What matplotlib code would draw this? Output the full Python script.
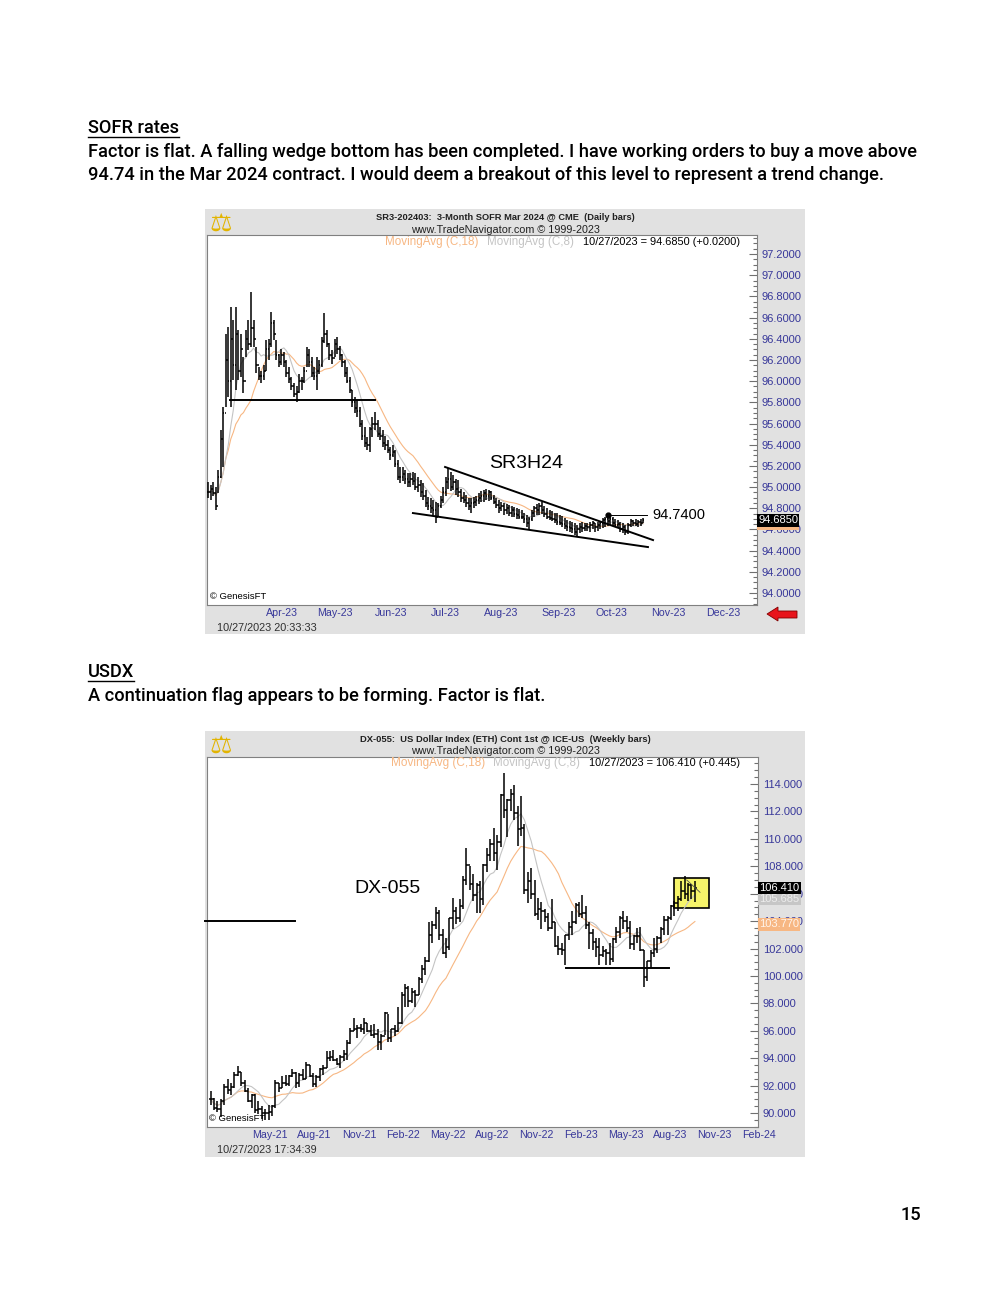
import numpy as np
import pandas as pd
import matplotlib
matplotlib.use('Agg')
import matplotlib.pyplot as plt
from matplotlib.transforms import Affine2D, blended_transform_factory
from matplotlib.patches import Rectangle, Polygon
from matplotlib.lines import Line2D
from matplotlib.ticker import MultipleLocator, FormatStrFormatter

# SR3H24 daily bars, 1 Mar 2023 .. 27 Oct 2023 (one row of values per month)
sofr_high = [
    95.05, 95.02, 95.05, 95.00, 95.16, 95.54, 95.76, 96.45, 96.51, 96.70, 96.58, 96.70, 96.48, 96.45, 96.23, 96.48, 96.58, 96.84, 96.58, 96.32, 96.13, 96.10, 96.15,
    96.39, 96.40, 96.65, 96.58, 96.39, 96.26, 96.30, 96.28, 96.20, 96.13, 96.04, 95.98, 95.95, 96.07, 96.04, 96.13, 96.32, 96.30, 96.23, 96.13,
    96.23, 96.20, 96.42, 96.64, 96.48, 96.36, 96.29, 96.40, 96.42, 96.33, 96.26, 96.20, 96.13, 96.04, 95.92, 95.85, 95.82, 95.76, 95.63, 95.57, 95.47, 95.57, 95.66,
    95.71, 95.63, 95.57, 95.54, 95.48, 95.44, 95.38, 95.40, 95.35, 95.26, 95.19, 95.19, 95.16, 95.13, 95.13, 95.14, 95.13, 95.10, 95.07, 95.04, 94.97, 94.91,
    94.90, 94.88, 94.86, 94.85, 94.92, 95.00, 95.10, 95.18, 95.14, 95.11, 95.08, 95.07, 94.98, 94.95, 94.93, 94.90, 94.90, 94.91, 94.92, 94.94, 94.96,
    94.97, 94.98, 94.97, 94.96, 94.93, 94.90, 94.88, 94.86, 94.85, 94.84, 94.83, 94.82, 94.81, 94.80, 94.79, 94.78, 94.76, 94.74, 94.72, 94.78, 94.82, 94.84, 94.85,
    94.86, 94.82, 94.80, 94.78, 94.77, 94.76, 94.76, 94.74, 94.73, 94.71, 94.69, 94.68, 94.67, 94.66, 94.64, 94.66, 94.67, 94.66, 94.66, 94.67, 94.68,
    94.66, 94.67, 94.68, 94.71, 94.72, 94.74, 94.73, 94.72, 94.70, 94.69, 94.67, 94.66, 94.64, 94.66, 94.70, 94.69, 94.70, 94.69, 94.70, 94.71,
]
sofr_low = [
    94.90, 94.88, 94.92, 94.78, 94.94, 95.09, 95.19, 95.76, 95.85, 95.76, 96.01, 95.92, 96.01, 96.04, 95.89, 96.23, 96.29, 96.32, 96.32, 96.08, 96.01, 95.98, 96.01,
    96.10, 96.20, 96.32, 96.39, 96.20, 96.13, 96.15, 96.13, 96.04, 95.98, 95.92, 95.85, 95.80, 95.89, 95.92, 95.98, 96.13, 96.13, 96.04, 96.01,
    95.92, 96.07, 96.13, 96.36, 96.32, 96.20, 96.16, 96.23, 96.26, 96.20, 96.13, 96.04, 95.98, 95.89, 95.76, 95.70, 95.66, 95.57, 95.44, 95.38, 95.35, 95.33, 95.47,
    95.54, 95.47, 95.44, 95.38, 95.35, 95.32, 95.26, 95.28, 95.19, 95.07, 95.04, 95.06, 95.03, 95.00, 95.00, 95.02, 94.97, 94.95, 94.91, 94.88, 94.81, 94.78,
    94.76, 94.74, 94.66, 94.72, 94.80, 94.85, 94.92, 94.98, 94.96, 94.97, 94.93, 94.91, 94.86, 94.85, 94.81, 94.78, 94.76, 94.80, 94.82, 94.84, 94.86,
    94.86, 94.88, 94.87, 94.88, 94.84, 94.80, 94.76, 94.77, 94.74, 94.75, 94.73, 94.72, 94.72, 94.70, 94.70, 94.70, 94.66, 94.62, 94.60, 94.68, 94.72, 94.74, 94.74,
    94.75, 94.72, 94.70, 94.69, 94.68, 94.66, 94.64, 94.64, 94.62, 94.60, 94.59, 94.58, 94.57, 94.55, 94.53, 94.57, 94.58, 94.59, 94.59, 94.58, 94.60,
    94.58, 94.59, 94.60, 94.61, 94.62, 94.63, 94.64, 94.63, 94.62, 94.61, 94.58, 94.57, 94.55, 94.56, 94.62, 94.63, 94.63, 94.62, 94.63, 94.66,
]
sofr_close = [
    94.95, 94.98, 94.94, 94.82, 95.10, 95.45, 95.70, 96.20, 96.00, 96.40, 96.15, 96.45, 96.10, 96.30, 96.00, 96.40, 96.35, 96.50, 96.40, 96.15, 96.05, 96.05, 96.10,
    96.30, 96.35, 96.55, 96.45, 96.25, 96.18, 96.25, 96.18, 96.08, 96.02, 95.95, 95.88, 95.90, 96.00, 96.00, 96.10, 96.25, 96.18, 96.08, 96.05,
    96.10, 96.15, 96.38, 96.45, 96.35, 96.25, 96.22, 96.35, 96.30, 96.25, 96.18, 96.08, 96.00, 95.92, 95.80, 95.75, 95.72, 95.60, 95.48, 95.42, 95.40, 95.55, 95.60,
    95.60, 95.50, 95.48, 95.42, 95.40, 95.35, 95.30, 95.33, 95.22, 95.10, 95.10, 95.12, 95.08, 95.05, 95.08, 95.06, 95.00, 95.02, 94.95, 94.92, 94.85, 94.82,
    94.80, 94.78, 94.72, 94.82, 94.88, 94.95, 95.05, 95.08, 95.00, 95.05, 94.98, 94.95, 94.90, 94.88, 94.85, 94.82, 94.85, 94.86, 94.88, 94.90, 94.92,
    94.94, 94.92, 94.95, 94.90, 94.86, 94.83, 94.80, 94.82, 94.78, 94.80, 94.76, 94.78, 94.75, 94.74, 94.72, 94.72, 94.70, 94.66, 94.70, 94.76, 94.80, 94.78, 94.82,
    94.78, 94.75, 94.72, 94.71, 94.70, 94.69, 94.67, 94.66, 94.65, 94.63, 94.62, 94.61, 94.60, 94.58, 94.60, 94.62, 94.61, 94.63, 94.62, 94.64, 94.66,
    94.62, 94.64, 94.66, 94.69, 94.70, 94.68, 94.70, 94.66, 94.64, 94.65, 94.60, 94.62, 94.58, 94.64, 94.68, 94.66, 94.65, 94.67, 94.665, 94.685,
]
sofr_start = '2023-03-01'
sofr_month_labels = ['Apr-23', 'May-23', 'Jun-23', 'Jul-23', 'Aug-23', 'Sep-23', 'Oct-23', 'Nov-23', 'Dec-23']

# DX-055 weekly bars, 5 Feb 2021 .. 27 Oct 2023 (one row per year)
dx_high = [
    91.6, 91.1, 90.9, 91.0, 92.1, 92.5, 92.2, 93.0, 93.4, 93.0, 92.4, 91.8, 91.4, 91.4, 90.9, 90.5, 90.3, 90.6, 90.6, 92.4, 92.2, 92.7, 92.8, 92.8, 93.2, 93.0,
    92.9, 93.2, 93.7, 93.5, 92.9, 92.8, 93.3, 93.5, 94.5, 94.5, 94.6, 94.0, 94.2, 94.6, 95.3, 96.2, 96.9, 96.4, 96.5, 96.9, 96.6, 96.4,
    96.5, 96.1, 95.8, 97.4, 97.2, 96.1, 96.4, 97.7, 98.8, 99.4, 99.3, 99.1, 99.0, 99.9, 100.8, 101.4, 103.9, 104.0, 105.0, 104.8, 103.4, 102.8, 104.2, 105.7, 105.0,
    105.6, 107.3, 109.3, 108.0, 107.4, 106.8, 106.9, 108.2, 109.3, 110.0, 110.8, 110.3, 113.3, 114.8, 112.9, 113.6, 113.9, 112.4, 113.1, 111.1, 107.6, 107.9,
    107.0, 105.7, 105.4, 104.9, 104.6,
    105.6, 103.9, 102.9, 102.4, 103.0, 103.9, 104.7, 105.3, 105.4, 105.9, 105.1, 103.9, 103.4, 102.8, 102.8, 102.2, 102.0, 102.4, 102.8, 103.6, 104.4,
    104.7, 104.4, 104.0, 103.0, 103.5, 103.6, 101.9, 101.1, 101.9, 102.8, 102.9, 103.6, 104.4, 104.4, 105.2, 105.5, 105.8, 106.9, 107.3, 106.8, 106.7, 106.9,
]
dx_low = [
    90.6, 90.2, 90.1, 89.7, 90.6, 91.4, 91.3, 91.8, 92.7, 92.0, 91.5, 90.8, 90.4, 90.0, 89.9, 89.6, 89.5, 89.5, 89.8, 90.4, 91.5, 91.8, 92.0, 92.0, 92.6, 91.8,
    91.9, 92.4, 92.5, 92.6, 91.9, 91.9, 92.3, 92.8, 93.3, 93.8, 93.8, 93.5, 93.3, 93.8, 93.9, 95.0, 96.0, 95.5, 95.9, 95.8, 95.9, 95.6,
    95.5, 94.6, 94.6, 95.7, 95.2, 95.2, 95.6, 95.9, 96.5, 97.7, 97.7, 98.0, 97.7, 98.6, 99.5, 100.1, 101.0, 102.4, 103.4, 102.6, 101.6, 101.3, 101.9, 103.4, 103.8,
    103.9, 104.9, 106.6, 106.3, 105.5, 104.6, 104.6, 105.2, 107.6, 108.4, 108.4, 107.7, 109.4, 111.5, 110.1, 112.0, 111.4, 109.5, 110.2, 106.0, 105.3, 105.6,
    104.4, 104.1, 103.4, 103.9, 103.3,
    103.4, 102.1, 101.5, 101.5, 100.8, 102.6, 103.0, 103.8, 104.3, 104.2, 103.4, 102.0, 101.9, 101.4, 100.8, 101.4, 100.8, 100.8, 101.0, 102.4, 102.8,
    103.4, 103.2, 102.0, 101.9, 102.4, 101.8, 99.2, 99.6, 100.6, 101.4, 101.7, 102.4, 103.0, 103.0, 104.1, 104.4, 104.7, 105.5, 105.6, 105.5, 105.6, 105.4,
]
dx_close = [
    91.0, 90.4, 90.3, 90.9, 91.9, 91.7, 91.9, 92.8, 93.0, 92.2, 91.6, 90.9, 91.3, 90.2, 90.3, 90.0, 90.0, 90.1, 90.5, 92.2, 91.8, 92.2, 92.1, 92.7, 92.9, 92.2,
    92.8, 92.5, 93.5, 92.7, 92.1, 92.6, 93.2, 93.3, 94.0, 94.1, 93.9, 93.6, 94.1, 94.3, 95.1, 96.0, 96.1, 96.2, 96.1, 96.6, 96.0, 95.7,
    95.8, 95.2, 95.6, 97.3, 95.5, 96.1, 96.0, 96.6, 98.6, 99.1, 98.2, 98.8, 98.6, 99.8, 100.5, 101.1, 103.0, 103.7, 104.6, 103.0, 101.7, 102.1, 104.2, 104.7, 104.2,
    105.1, 107.0, 108.1, 106.7, 105.9, 106.6, 105.6, 108.1, 108.8, 109.6, 109.0, 109.8, 113.2, 112.1, 112.8, 113.3, 111.9, 110.7, 110.8, 106.3, 106.9, 106.0,
    104.5, 104.9, 104.7, 104.3, 103.5,
    103.9, 102.2, 102.0, 101.9, 103.0, 103.6, 103.9, 105.2, 104.5, 104.6, 103.7, 103.1, 102.5, 102.1, 101.5, 101.8, 101.7, 101.2, 102.7, 103.2, 104.2,
    104.0, 103.5, 102.3, 102.9, 102.9, 101.9, 99.9, 101.1, 101.7, 102.0, 102.8, 103.4, 104.1, 104.2, 105.1, 105.3, 105.6, 106.2, 106.0, 106.6, 106.2, 106.41,
]
dx_start = '2021-02-05'
dx_month_labels = ['May-21', 'Aug-21', 'Nov-21', 'Feb-22', 'May-22', 'Aug-22', 'Nov-22',
                   'Feb-23', 'May-23', 'Aug-23', 'Nov-23', 'Feb-24']

BLUE = '#38389a'
ORANGE = '#f7b783'
GREY_MA = '#c4c4c4'
PANEL = '#e1e1e1'
plt.rcParams['font.family'] = 'Liberation Sans'

W, H = 1008, 1300
fig = plt.figure(figsize=(W / 100, H / 100), dpi=100)
fig.patch.set_facecolor('white')
# page pixel coordinates, origin top-left
px = Affine2D().scale(1, -1).translate(0, H).scale(1 / W, 1 / H) + fig.transFigure
renderer = fig.canvas.get_renderer()


def put(x, y, s, width=None, size=8, **kw):
    kw.setdefault('va', 'center')
    t = fig.text(x, y, s, transform=px, fontsize=size, **kw)
    if width:
        w = t.get_window_extent(renderer).width
        t.set_fontsize(size * width / w)
    return t


def make_ax(l, t, r, b):
    return fig.add_axes([l / W, 1 - b / H, (r - l) / W, (b - t) / H])


def style(ax, ymaj, ymin, fmt, xpos, xlabels):
    for s in ax.spines.values():
        s.set_color('#808080')
        s.set_linewidth(0.8)
    ax.yaxis.tick_right()
    ax.yaxis.set_major_locator(MultipleLocator(ymaj))
    ax.yaxis.set_minor_locator(MultipleLocator(ymin))
    ax.yaxis.set_major_formatter(FormatStrFormatter(fmt))
    ax.tick_params(axis='y', which='major', direction='in', length=6, width=0.8,
                   color='#707070', labelsize=8, labelcolor=BLUE, pad=3.5)
    ax.tick_params(axis='y', which='minor', direction='in', length=3, width=0.8, color='#707070')
    ax.set_xticks(xpos)
    ax.set_xticklabels(xlabels, ha='left')
    ax.tick_params(axis='x', length=0, labelsize=7.7, labelcolor=BLUE, pad=2.5)


def bars(ax, h, l, c, tick):
    h, l, c = np.asarray(h), np.asarray(l), np.asarray(c)
    x = np.arange(len(c))
    o = np.r_[c[0], c[:-1]]
    ax.vlines(x, l, h, color='black', lw=1.1, zorder=3)
    ax.hlines(o, x - tick, x, color='black', lw=1.1, zorder=3)
    ax.hlines(c, x, x + tick, color='black', lw=1.1, zorder=3)
    cs = pd.Series(c)
    ax.plot(x, cs.rolling(18, min_periods=1).mean(), color=ORANGE, lw=0.8, zorder=2)
    ax.plot(x, cs.rolling(8, min_periods=1).mean(), color=GREY_MA, lw=0.8, zorder=2)


def side_label(ax, y, s, fc, tc, z):
    tr = blended_transform_factory(ax.transAxes, ax.transData)
    ax.text(1.002, y, s, transform=tr, ha='left', va='center', fontsize=8, color=tc,
            clip_on=False, zorder=z,
            bbox=dict(boxstyle='square,pad=0.12', fc=fc, ec='none'))


# ---------------- page text ----------------
body = dict(family='Roboto', weight='medium', color='black')
t1 = put(88, 152, 'Factor is flat. A falling wedge bottom has been completed. I have working orders to buy a move above',
         width=827, size=12, **body)
bs = t1.get_fontsize()
h1 = put(88, 128, 'SOFR rates', size=bs, **body)
put(88, 175, '94.74 in the Mar 2024 contract. I would deem a breakout of this level to represent a trend change.',
    size=bs, **body)
h2 = put(88, 672, 'USDX', size=bs, **body)
put(88, 696, 'A continuation flag appears to be forming. Factor is flat.', size=bs, **body)
put(921, 1215, '15', size=bs, ha='right', **body)
for h, y in ((h1, 137), (h2, 681)):
    w = h.get_window_extent(renderer).width
    fig.add_artist(Line2D([88, 88 + w], [y, y], transform=px, color='black', lw=1.0))

# ---------------- chart 1: SR3H24 daily ----------------
fig.add_artist(Rectangle((205, 209), 600, 425, transform=px, fc=PANEL, ec='none', zorder=-1))
ax1 = make_ax(207, 235, 757, 605)
days = pd.bdate_range(sofr_start, '2023-12-29')
pos1 = [int(np.searchsorted(days, pd.to_datetime(m, format='%b-%y'))) for m in sofr_month_labels]
bars(ax1, sofr_high, sofr_low, sofr_close, 0.45)
ax1.set_xlim(-0.4, 217)
ax1.set_ylim(93.887, 97.38)
style(ax1, 0.2, 0.05, '%.4f', pos1, sofr_month_labels)

# drawn studies
ax1.plot([8.7, 66], [95.82, 95.82], color='black', lw=1.4, zorder=4)
ax1.plot([93.7, 175.9], [95.19, 94.50], color='black', lw=1.4, zorder=4)
ax1.plot([81, 173.9], [94.755, 94.434], color='black', lw=1.4, zorder=4)
ax1.plot([158, 173.5], [94.74, 94.74], color='black', lw=0.7, zorder=4)
ax1.plot([158], [94.74], 'o', color='black', ms=3.5, zorder=5)
ax1.text(175.5, 94.74, '94.7400', fontsize=10.5, va='center', ha='left')
ax1.text(125.7, 95.22, 'SR3H24', fontsize=14, va='center', ha='center')
ax1.text(0.005, 0.012, '© GenesisFT', transform=ax1.transAxes, fontsize=6.8, va='bottom')
side_label(ax1, 94.652, '94.6520', ORANGE, 'white', 5)
side_label(ax1, 94.685, '94.6850', 'black', 'white', 6)

put(221, 224, '⚖', size=18, ha='center', family='DejaVu Sans', weight='bold', color='#e2b400')
put(505, 217, 'SR3-202403:  3-Month SOFR Mar 2024 @ CME  (Daily bars)', width=258, size=7,
    ha='center', weight='bold', color='#202020')
put(505, 230, 'www.TradeNavigator.com © 1999-2023', width=189, size=8, ha='center', color='#202020')
put(385, 242, 'MovingAvg (C,18)', width=93, size=8, color=ORANGE)
put(487, 242, 'MovingAvg (C,8)', width=87, size=8, color=GREY_MA)
put(583, 242, '10/27/2023 = 94.6850 (+0.0200)', width=158, size=8, color='black')
put(217, 628, '10/27/2023 20:33:33', width=100, size=8, color='#303030')
fig.add_artist(Polygon([(767, 614), (778, 607), (778, 611), (797, 611), (797, 618), (778, 618), (778, 621)],
                       closed=True, transform=px, fc='#e8141b', ec='#800000', lw=0.6, zorder=5))

# ---------------- chart 2: DX-055 weekly ----------------
fig.add_artist(Rectangle((205, 731), 600, 426, transform=px, fc=PANEL, ec='none', zorder=-1))
ax2 = make_ax(207, 757, 758, 1127)
t0 = pd.Timestamp(dx_start)
pos2 = [(pd.to_datetime(m, format='%b-%y') - t0).days / 7 for m in dx_month_labels]
ax2.add_patch(Rectangle((135.9, 104.95), 10.3, 2.19, fc='#f6f46a', ec='black', lw=1.2, zorder=1))
bars(ax2, dx_high, dx_low, dx_close, 0.5)
ax2.set_xlim(-1.06, 160.5)
ax2.set_ylim(88.98, 115.97)
style(ax2, 2, 0.5, '%.3f', pos2, dx_month_labels)

ax2.plot([104.2, 134.5], [100.55, 100.55], color='black', lw=1.4, zorder=4)
ax2.plot([-1.64, 24.75], [104.0, 104.0], color='black', lw=1.4, zorder=4, clip_on=False)
ax2.plot([139.6, 143.5], [107.0, 106.1], color='#505050', lw=0.6, zorder=4)
ax2.text(52, 106.41, 'DX-055', fontsize=14, va='center', ha='center')
ax2.text(0.004, 0.012, '© GenesisFT', transform=ax2.transAxes, fontsize=6.8, va='bottom')
side_label(ax2, 103.77, '103.770', ORANGE, '#fff4ea', 5)
side_label(ax2, 105.62, '105.685', '#c6c6c6', '#ececec', 5)
side_label(ax2, 106.41, '106.410', 'black', 'white', 6)

put(221, 746, '⚖', size=18, ha='center', family='DejaVu Sans', weight='bold', color='#e2b400')
put(505, 739, 'DX-055:  US Dollar Index (ETH) Cont 1st @ ICE-US  (Weekly bars)', width=291, size=7,
    ha='center', weight='bold', color='#202020')
put(505, 751, 'www.TradeNavigator.com © 1999-2023', width=189, size=8, ha='center', color='#202020')
put(391, 763, 'MovingAvg (C,18)', width=94, size=8, color=ORANGE)
put(493, 763, 'MovingAvg (C,8)', width=87, size=8, color=GREY_MA)
put(589, 763, '10/27/2023 = 106.410 (+0.445)', width=152, size=8, color='black')
put(217, 1150, '10/27/2023 17:34:39', width=100, size=8, color='#303030')

fig.savefig('out.png', dpi=100)
